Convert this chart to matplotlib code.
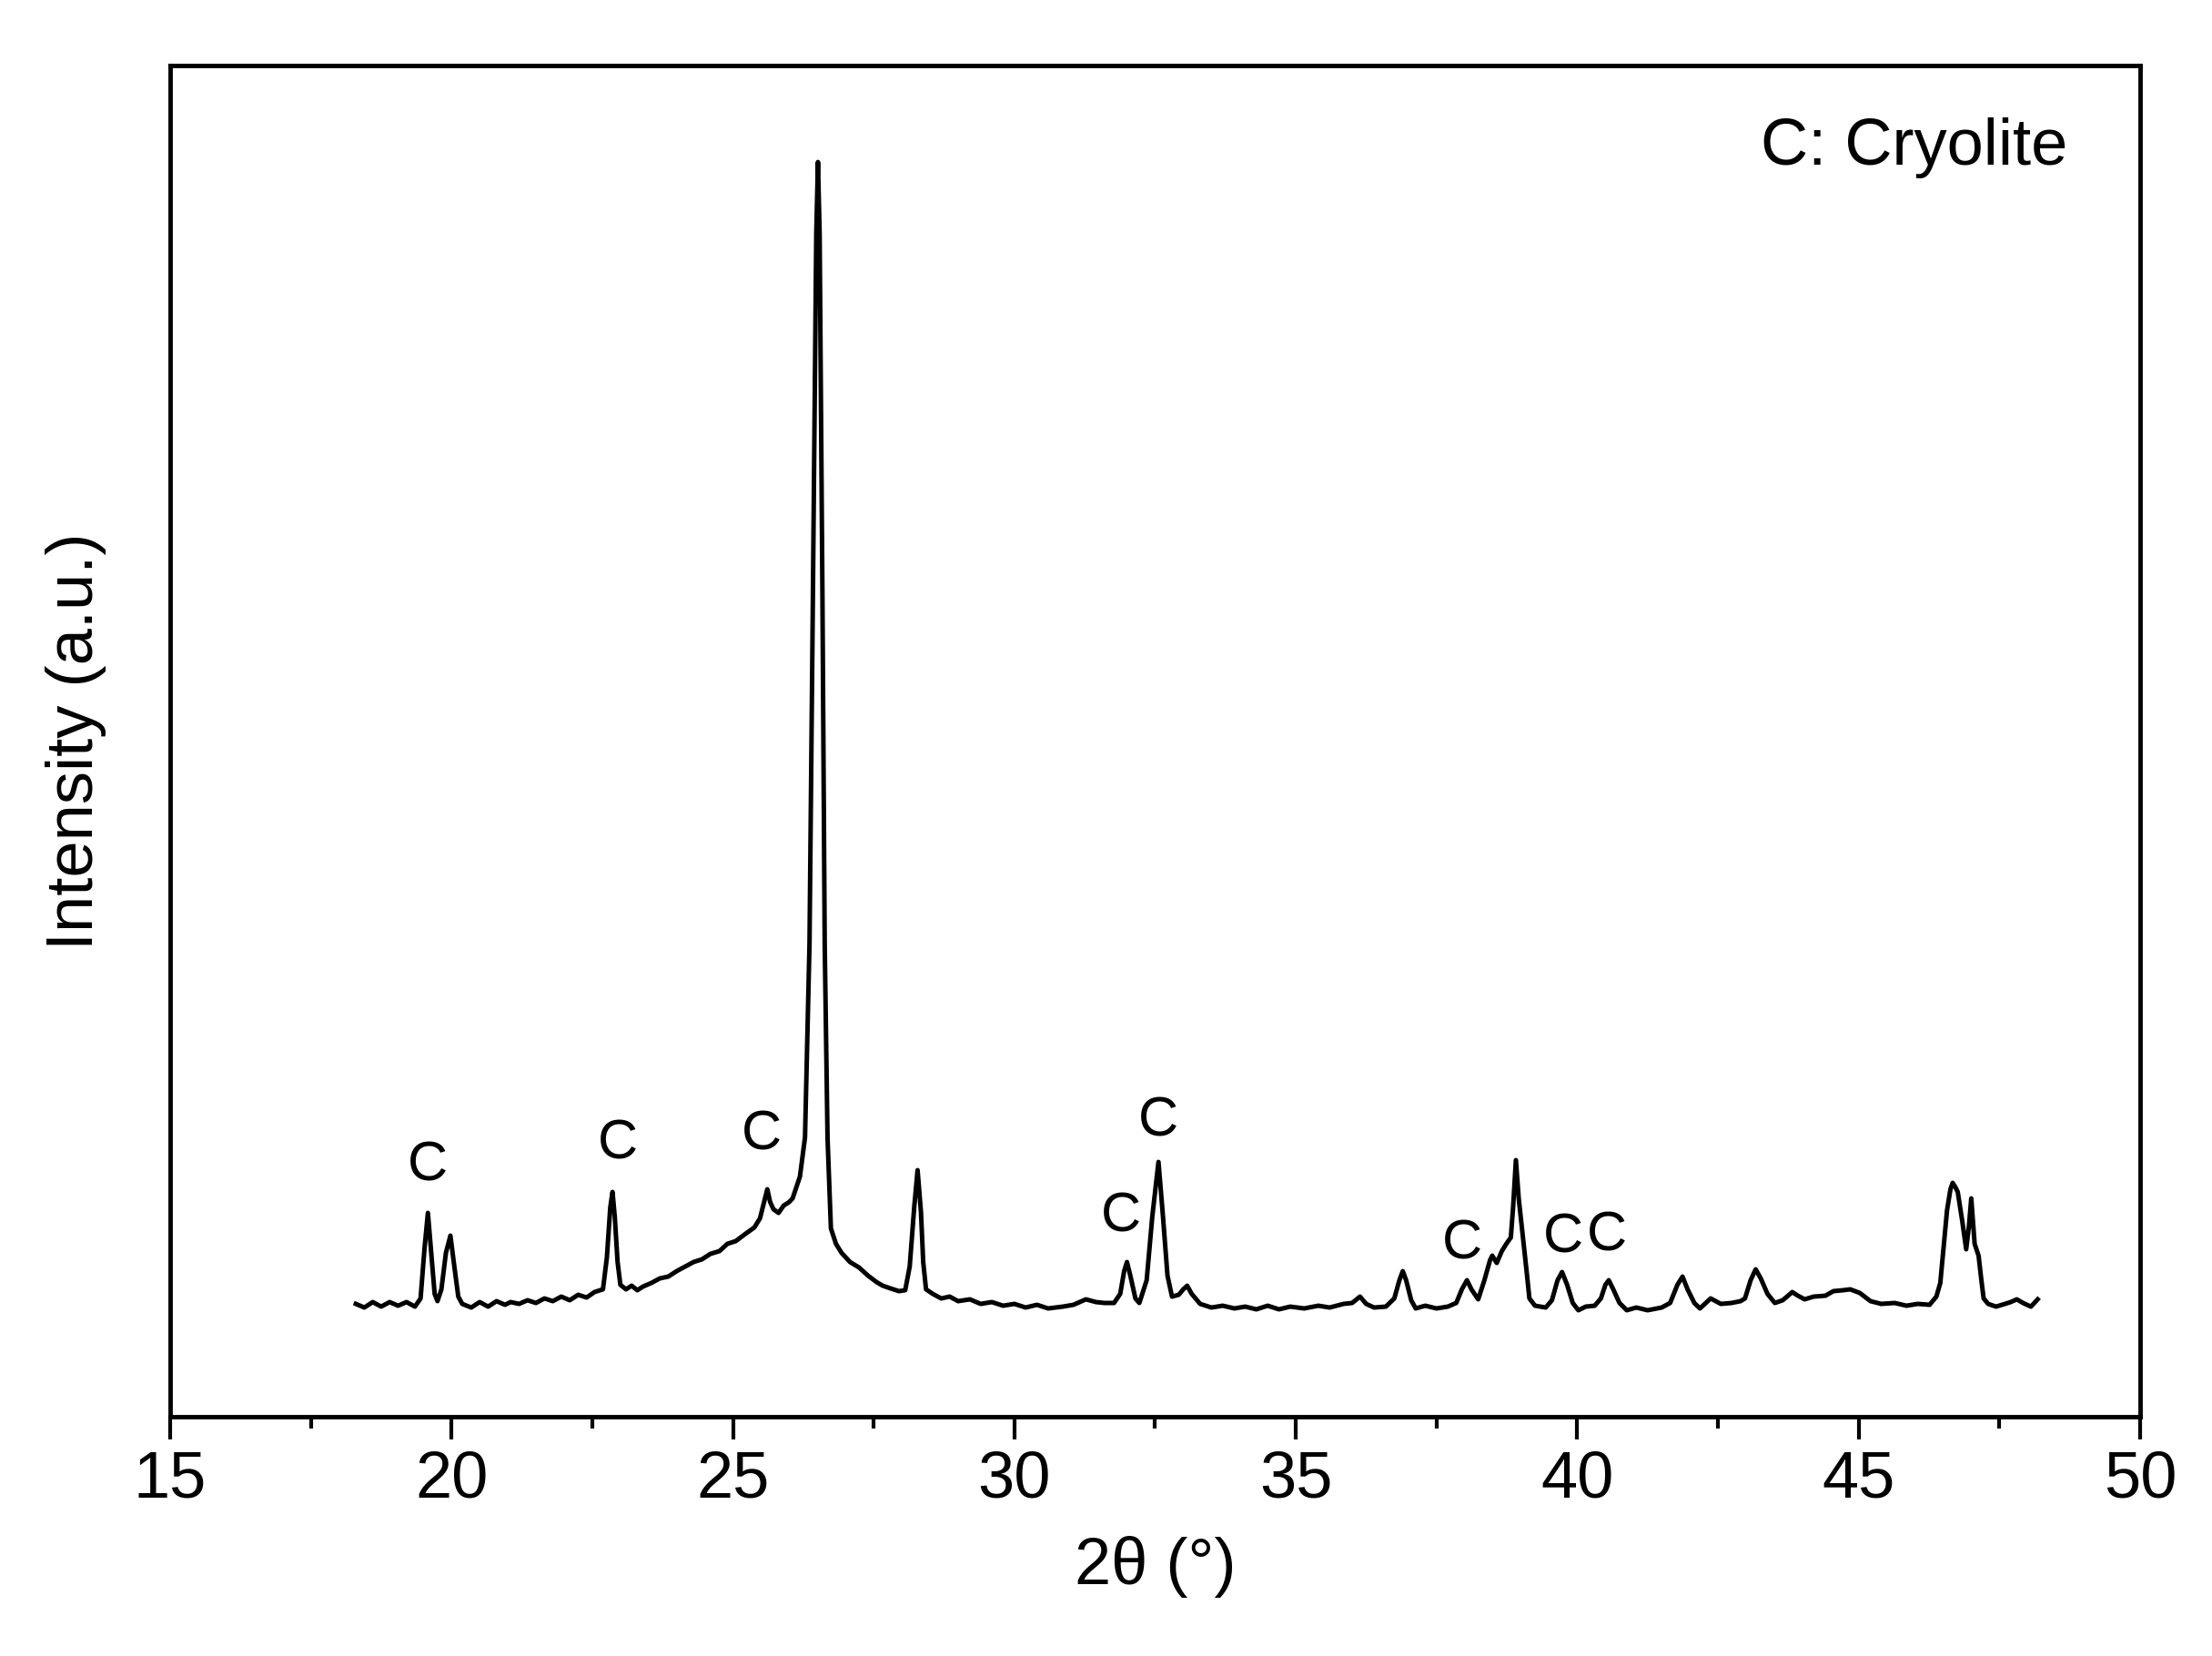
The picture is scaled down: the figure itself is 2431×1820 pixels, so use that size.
import matplotlib
matplotlib.use("Agg")
import matplotlib.pyplot as plt
from matplotlib.ticker import MultipleLocator

plt.rcParams['font.family'] = ['Liberation Sans', 'DejaVu Sans']

# XRD pattern (2theta in degrees, intensity in arbitrary units)
two_theta = [
    18.30, 18.45, 18.60, 18.75, 18.90, 19.05, 19.20, 19.35, 19.45, 19.52,
    19.58, 19.64, 19.70, 19.75, 19.82, 19.90, 19.98, 20.05, 20.12, 20.19,
    20.35, 20.50, 20.65, 20.80, 20.95, 21.05, 21.20, 21.35, 21.50, 21.65,
    21.80, 21.95, 22.10, 22.25, 22.40, 22.54, 22.69, 22.76, 22.82, 22.86,
    22.90, 22.95, 23.00, 23.10, 23.20, 23.30, 23.40, 23.55, 23.70, 23.85,
    24.00, 24.15, 24.30, 24.45, 24.60, 24.76, 24.90, 25.05, 25.20, 25.38,
    25.48, 25.55, 25.61, 25.66, 25.72, 25.81, 25.90, 26.00, 26.06, 26.19,
    26.28, 26.36, 26.42, 26.48, 26.51, 26.54, 26.59, 26.63, 26.68, 26.74,
    26.83, 26.93, 27.08, 27.24, 27.40, 27.55, 27.66, 27.80, 27.95, 28.06,
    28.14, 28.22, 28.28, 28.34, 28.38, 28.43, 28.55, 28.70, 28.85, 29.00,
    29.21, 29.40, 29.60, 29.80, 30.00, 30.20, 30.40, 30.60, 30.86, 31.05,
    31.27, 31.45, 31.60, 31.77, 31.88, 31.95, 32.00, 32.06, 32.15, 32.22,
    32.35, 32.45, 32.56, 32.64, 32.72, 32.80, 32.92, 33.00, 33.07, 33.15,
    33.30, 33.50, 33.70, 33.91, 34.10, 34.30, 34.50, 34.70, 34.90, 35.15,
    35.40, 35.60, 35.85, 36.00, 36.14, 36.25, 36.39, 36.60, 36.75, 36.84,
    36.90, 36.96, 37.05, 37.13, 37.30, 37.50, 37.70, 37.85, 37.95, 38.04,
    38.12, 38.24, 38.35, 38.45, 38.49, 38.57, 38.66, 38.74, 38.82, 38.86,
    38.91, 38.96, 39.03, 39.10, 39.15, 39.25, 39.44, 39.55, 39.65, 39.73,
    39.82, 39.92, 40.02, 40.15, 40.31, 40.42, 40.50, 40.56, 40.64, 40.75,
    40.88, 41.05, 41.25, 41.50, 41.65, 41.78, 41.87, 41.96, 42.08, 42.18,
    42.37, 42.55, 42.74, 42.90, 42.98, 43.08, 43.17, 43.26, 43.38, 43.51,
    43.65, 43.82, 43.92, 44.04, 44.20, 44.41, 44.55, 44.72, 44.85, 45.02,
    45.21, 45.40, 45.64, 45.85, 46.05, 46.26, 46.38, 46.45, 46.50, 46.57,
    46.63, 46.67, 46.72, 46.76, 46.84, 46.91, 46.96, 47.00, 47.03, 47.06,
    47.13, 47.18, 47.22, 47.30, 47.44, 47.60, 47.70, 47.81, 47.92, 48.06,
    48.18,
]
intensity = [
    124, 120, 126, 121, 126, 122, 126, 121, 130, 185,
    224, 180, 135, 127, 140, 180, 199, 165, 132, 124,
    120, 126, 121, 127, 123, 126, 124, 128, 125, 130,
    127, 132, 128, 134, 131, 137, 140, 175, 230, 247,
    220, 170, 145, 140, 144, 139, 143, 147, 152, 154,
    160, 165, 170, 173, 179, 182, 190, 193, 200, 208,
    218, 235, 250, 236, 228, 224, 232, 236, 240, 264,
    307, 520, 900, 1300, 1379, 1300, 900, 520, 307, 207,
    190, 180, 170, 164, 155, 148, 144, 141, 138, 139,
    165, 230, 271, 225, 170, 140, 135, 130, 132, 127,
    129, 124, 126, 122, 124, 120, 123, 119, 121, 123,
    129, 126, 125, 125, 135, 160, 170, 155, 130, 125,
    150, 220, 280, 220, 155, 132, 134, 140, 144, 135,
    124, 120, 122, 119, 121, 118, 122, 118, 121, 119,
    122, 120, 124, 125, 132, 124, 120, 121, 130, 150,
    160, 150, 128, 119, 122, 119, 121, 125, 140, 150,
    140, 129, 150, 172, 177, 169, 182, 190, 197, 230,
    282, 240, 200, 160, 130, 122, 120, 128, 150, 159,
    145, 125, 117, 121, 122, 130, 145, 150, 140, 125,
    117, 120, 117, 120, 125, 145, 154, 140, 125, 119,
    130, 124, 125, 127, 130, 150, 162, 152, 135, 125,
    128, 137, 133, 129, 132, 133, 138, 139, 140, 136,
    127, 124, 125, 122, 124, 123, 132, 147, 180, 227,
    250, 257, 252, 247, 215, 184, 210, 240, 215, 190,
    177, 150, 130, 124, 121, 124, 126, 129, 125, 121,
    129,
]

# cryolite markers: x position and baseline height of the "C"
label_x = [19.58, 22.96, 25.50, 31.90, 32.55, 37.96, 39.75, 40.52]
label_y = [260, 284, 294, 204, 309, 174, 181, 183]

fig = plt.figure(figsize=(24.31, 18.20), dpi=100)
ax = fig.add_axes([0.0769, 0.1445, 0.8906, 0.8159])

ax.plot(two_theta, intensity, color='black', linewidth=3.6)

for x, y in zip(label_x, label_y):
    ax.text(x, y, 'C', fontsize=44, ha='center', va='baseline')

ax.text(0.963, 0.9266, 'C: Cryolite', fontsize=52, ha='right', va='baseline',
        transform=ax.transAxes)

ax.set_xlim(15, 50)
ax.set_ylim(0, 1485)
ax.xaxis.set_major_locator(MultipleLocator(5))
ax.xaxis.set_minor_locator(MultipleLocator(2.5))
ax.tick_params(axis='x', which='major', direction='out', length=18, width=3,
               labelsize=52, pad=8)
ax.tick_params(axis='x', which='minor', direction='out', length=9.5, width=3)
ax.tick_params(axis='y', which='both', left=False, labelleft=False)
for spine in ax.spines.values():
    spine.set_linewidth(3.5)

ax.set_xlabel('2θ (°)', fontsize=52, labelpad=20)
ax.set_ylabel('Intensity (a.u.)', fontsize=52, labelpad=50)

fig.savefig('out.png', dpi=100)
plt.close(fig)
